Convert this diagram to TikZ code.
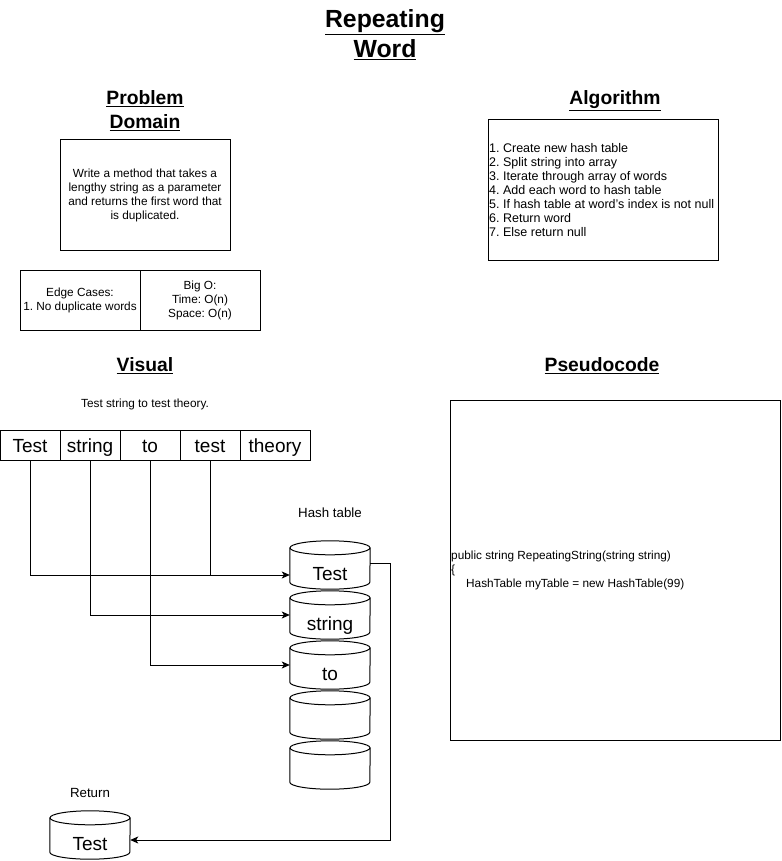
\documentclass[tikz,border=0pt]{standalone}
\usepackage{fontspec}
\setmainfont{Liberation Sans}
\usetikzlibrary{arrows.meta}
\frenchspacing
\newcommand\fsmall{\fontsize{11.8}{14}\selectfont}
\newcommand\falg{\fontsize{12.5}{14}\selectfont}
\newcommand\fpse{\fontsize{11.8}{14}\selectfont}
\newcommand\flab{\fontsize{13.3}{15}\selectfont}
\newcommand\fword{\fontsize{19}{22}\selectfont}
\newcommand\fhead{\fontsize{19.3}{24}\selectfont\bfseries}
\newcommand\ftitle{\fontsize{24.8}{30}\selectfont\bfseries}
\newcommand\cylout[1]{%
  \draw[thin1] ([yshift=-7pt]#1.north) ellipse [x radius=40pt, y radius=7pt];
  \draw[thin1] ([yshift=-7pt]#1.north west) -- ([yshift=7pt]#1.south west)
    arc[start angle=180, end angle=360, x radius=40pt, y radius=7pt]
    -- ([yshift=-7pt]#1.north east);}
\tikzset{
  thin1/.style={line width=1pt},
  box/.style={draw, line width=1pt, inner sep=0pt, align=center, font=\fsmall},
  wordbox/.style={draw, line width=1pt, inner sep=0pt, minimum width=60pt, minimum height=30pt, font=\fword, text height=14pt, text depth=0pt},
  cyl/.style={inner sep=0pt, minimum width=80pt, minimum height=48pt, font=\fword, text height=30pt, text depth=0pt},
  head/.style={align=center, font=\fhead, inner sep=0pt},
  plain/.style={inner sep=0pt, font=\fsmall},
  lab/.style={inner sep=0pt, font=\flab},
  arr/.style={line width=1pt, -{Stealth[length=8pt, width=7pt, inset=2pt]}},
  conn/.style={line width=1pt}
}
\begin{document}
\begin{tikzpicture}[x=1pt, y=-1pt]
\useasboundingbox (0,0) rectangle (781,861);
% titles
\node[align=center, font=\ftitle, inner sep=0pt] (title) at (385,35) {\underline{Repeating}\\\underline{Word}};
\node[head] (hpd) at (145,111) {\underline{Problem}\\\underline{Domain}};
\node[head] (halg) at (615,101) {\underline{Algorithm}};
\node[head] (hvis) at (145,366) {\underline{Visual}};
\node[head] (hpse) at (602,366) {\underline{Pseudocode}};
% problem domain
\node[box, minimum width=170pt, minimum height=110pt] (pd) at (145,195)
  {Write a method that takes a\\lengthy string as a parameter\\and returns the first word that\\is duplicated.};
\node[box, minimum width=120pt, minimum height=60pt] (edge) at (80,300)
  {Edge Cases:\\1. No duplicate words};
\node[box, minimum width=120pt, minimum height=60pt] (bigo) at (200,300)
  {Big O:\\Time: O(n)\\Space: O(n)};
% algorithm
\node[draw, line width=1pt, minimum width=230pt, minimum height=140pt, inner sep=0pt] (alg) at (603,190) {};
\node[inner sep=0pt, font=\falg, align=left, anchor=west] (algtext) at (489,190)
  {1. Create new hash table\\2. Split string into array\\3. Iterate through array of words\\4. Add each word to hash table\\5. If hash table at word's index is not null\\6. Return word\\7. Else return null};
% pseudocode
\node[draw, line width=1pt, minimum width=330pt, minimum height=340pt, inner sep=0pt] (pse) at (615,570) {};
\node[inner sep=0pt, font=\fpse, align=left, anchor=west] (psetext) at (451,570)
  {public string RepeatingString(string string)\\\{\\\hspace*{15pt}HashTable myTable = new HashTable(99)};
% visual
\node[plain] (sent) at (145,404) {Test string to test theory.};
\node[wordbox] (w1) at (30,445) {Test};
\node[wordbox] (w2) at (90,445) {string};
\node[wordbox] (w3) at (150,445) {to};
\node[wordbox] (w4) at (210,445) {test};
\node[wordbox, minimum width=70pt] (w5) at (275,445) {theory};
\node[lab] (hlab) at (330,513) {Hash table};
\node[cyl] (c1) at (330,565) {Test};
\node[cyl] (c2) at (330,615) {string};
\node[cyl] (c3) at (330,665) {to};
\node[cyl] (c4) at (330,715) {};
\node[cyl] (c5) at (330,765) {};
\cylout{c1}\cylout{c2}\cylout{c3}\cylout{c4}\cylout{c5}
\node[lab] (rlab) at (90,793) {Return};
\node[cyl] (ret) at (90,835) {Test};
\cylout{ret}
% connectors
\coordinate (a1) at ([yshift=-10pt]c1.west);
\draw[arr] (w1.south) |- (a1);
\draw[conn] (w4.south) -- (w4.south |- a1);
\draw[arr] (w2.south) |- (c2.west);
\draw[arr] (w3.south) |- (c3.west);
\coordinate (rt) at ([xshift=20pt, yshift=2pt]c1.east);
\draw[arr] ([yshift=2pt]c1.east) -- (rt) |- ([yshift=-5pt]ret.east);
\end{tikzpicture}
\end{document}
